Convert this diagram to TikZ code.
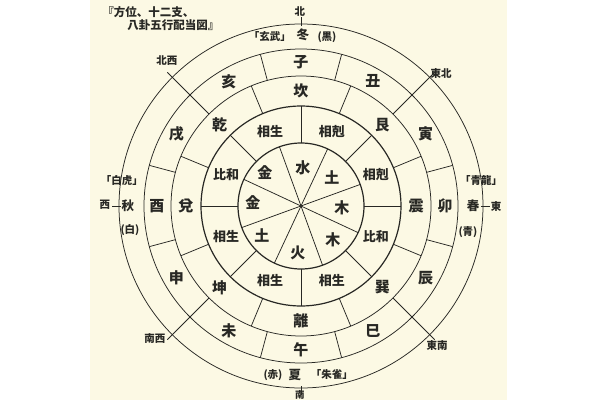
\documentclass[tikz,border=0pt]{standalone}
\usepackage{fontspec}
\setmainfont{Noto Sans CJK JP}
\definecolor{cream}{RGB}{252,249,228}
\definecolor{ink}{RGB}{40,40,36}
\begin{document}
\begin{tikzpicture}[x=1pt,y=1pt,line width=0.7pt,
  lines/.style={draw=ink,line width=0.75pt},
  thick ring/.style={draw=ink,line width=1.2pt},
  big/.style={text=ink,font=\fontsize{15}{15}\selectfont\bfseries,inner sep=0pt},
  mid/.style={text=ink,font=\fontsize{12.5}{12.5}\selectfont\bfseries,inner sep=0pt},
  rel/.style={text=ink,font=\fontsize{13}{13}\selectfont\bfseries,inner sep=0pt},
  small/.style={text=ink,font=\fontsize{10.5}{10.5}\selectfont\bfseries,inner sep=0pt},
  dir/.style={text=ink,font=\fontsize{10.5}{10.5}\selectfont\bfseries,inner sep=0pt},
  titletext/.style={text=ink,font=\fontsize{11.5}{11.5}\selectfont\bfseries,inner sep=0pt,anchor=west}]
\useasboundingbox (-301,-194) rectangle (299,206);
\fill[white] (-301,-194) rectangle (299,206);
\fill[cream] (-211,-194) rectangle (206,206);
% rings
\draw[thick ring] (0,0) circle (63);
\draw[thick ring] (0,0) circle (100);
\draw[lines] (0,0) circle (130);
\draw[lines] (0,0) circle (157);
\draw[lines] (0,0) circle (182);
% inner wedges
\foreach \a in {20,65,110,155,200,245,290,335} \draw[lines] (0,0) -- (\a:63);
% relation ring dividers
\foreach \a in {0,45,90,135,180,225,270,315} \draw[lines] (\a:63) -- (\a:100);
% trigram ring dividers
\foreach \a in {22.5,67.5,112.5,157.5,202.5,247.5,292.5,337.5} \draw[lines] (\a:100) -- (\a:130);
% branch ring dividers
\foreach \a in {15,75,105,165,195,255,285,345} \draw[lines] (\a:130) -- (\a:157);
% diagonals
\foreach \a in {45,135,225,315} \draw[lines] (\a:130) -- (\a:189);
% cardinal ticks
\foreach \a in {0,90,180,270} \draw[lines] (\a:180) -- (\a:189);
% five elements
\node[big] (e1) at (2,38) {水};
\node[big] (e2) at (31,29) {土};
\node[big] (e3) at (41,-2) {木};
\node[big] (e4) at (32,-34) {木};
\node[big] (e5) at (-3,-47) {火};
\node[big] (e6) at (-39,-29) {土};
\node[big] (e7) at (-48,3) {金};
\node[big] (e8) at (-36,33) {金};
% relations
\node[rel] (r1) at (112.5:81) {相生};
\node[rel] (r2) at (67.5:81) {相剋};
\node[rel] (r3) at (22.5:81) {相剋};
\node[rel] (r4) at (-22.5:81) {比和};
\node[rel] (r5) at (-67.5:81) {相生};
\node[rel] (r6) at (-112.5:81) {相生};
\node[rel] (r7) at (-157.5:81) {相生};
\node[rel] (r8) at (157.5:81) {比和};
% trigrams
\node[big] (t1) at (90:115) {坎};
\node[big] (t2) at (45:115) {艮};
\node[big] (t3) at (0:115) {震};
\node[big] (t4) at (-45:115) {巽};
\node[big] (t5) at (-90:115) {離};
\node[big] (t6) at (-135:115) {坤};
\node[big] (t7) at (180:115) {兌};
\node[big] (t8) at (135:115) {乾};
% branches
\node[big] (b1) at (90:144) {子};
\node[big] (b2) at (60:144) {丑};
\node[big] (b3) at (30:144) {寅};
\node[big] (b4) at (0:144) {卯};
\node[big] (b5) at (-30:144) {辰};
\node[big] (b6) at (-60:144) {巳};
\node[big] (b7) at (-90:144) {午};
\node[big] (b8) at (-120:144) {未};
\node[big] (b9) at (-150:144) {申};
\node[big] (b10) at (180:144) {酉};
\node[big] (b11) at (150:144) {戌};
\node[big] (b12) at (120:144) {亥};
% seasons
\node[small] (nA) at (-31,169) {「玄武」};
\node[mid] (nB) at (2,171) {冬};
\node[small] (nC) at (26,169) {(黒)};
\node[small] (eA) at (180,25) {「青龍」};
\node[mid] (eB) at (172,0) {春};
\node[small] (eC) at (167,-26) {(青)};
\node[small] (wA) at (-179,26) {「白虎」};
\node[mid] (wB) at (-173,0) {秋};
\node[small] (wC) at (-171,-24) {(白)};
\node[small] (sA) at (-28,-169) {(赤)};
\node[mid] (sB) at (-6,-169) {夏};
\node[small] (sC) at (31,-169) {「朱雀」};
% directions
\node[dir] (dN) at (-1,194) {北};
\node[dir] (dE) at (195,-1) {東};
\node[dir] (dW) at (-196,1) {西};
\node[dir,font=\fontsize{9.5}{9.5}\selectfont\bfseries] (dS) at (-1,-188.5) {南};
\node[dir] (dNW) at (-134,145) {北西};
\node[dir] (dNE) at (140,132) {東北};
\node[dir] (dSW) at (-146,-133) {南西};
\node[dir] (dSE) at (136,-140) {東南};
% title
\node[titletext] (ti1) at (-199,194) {『方位、十二支、};
\node[titletext] (ti2) at (-174,181) {八卦五行配当図』};
\end{tikzpicture}
\end{document}
